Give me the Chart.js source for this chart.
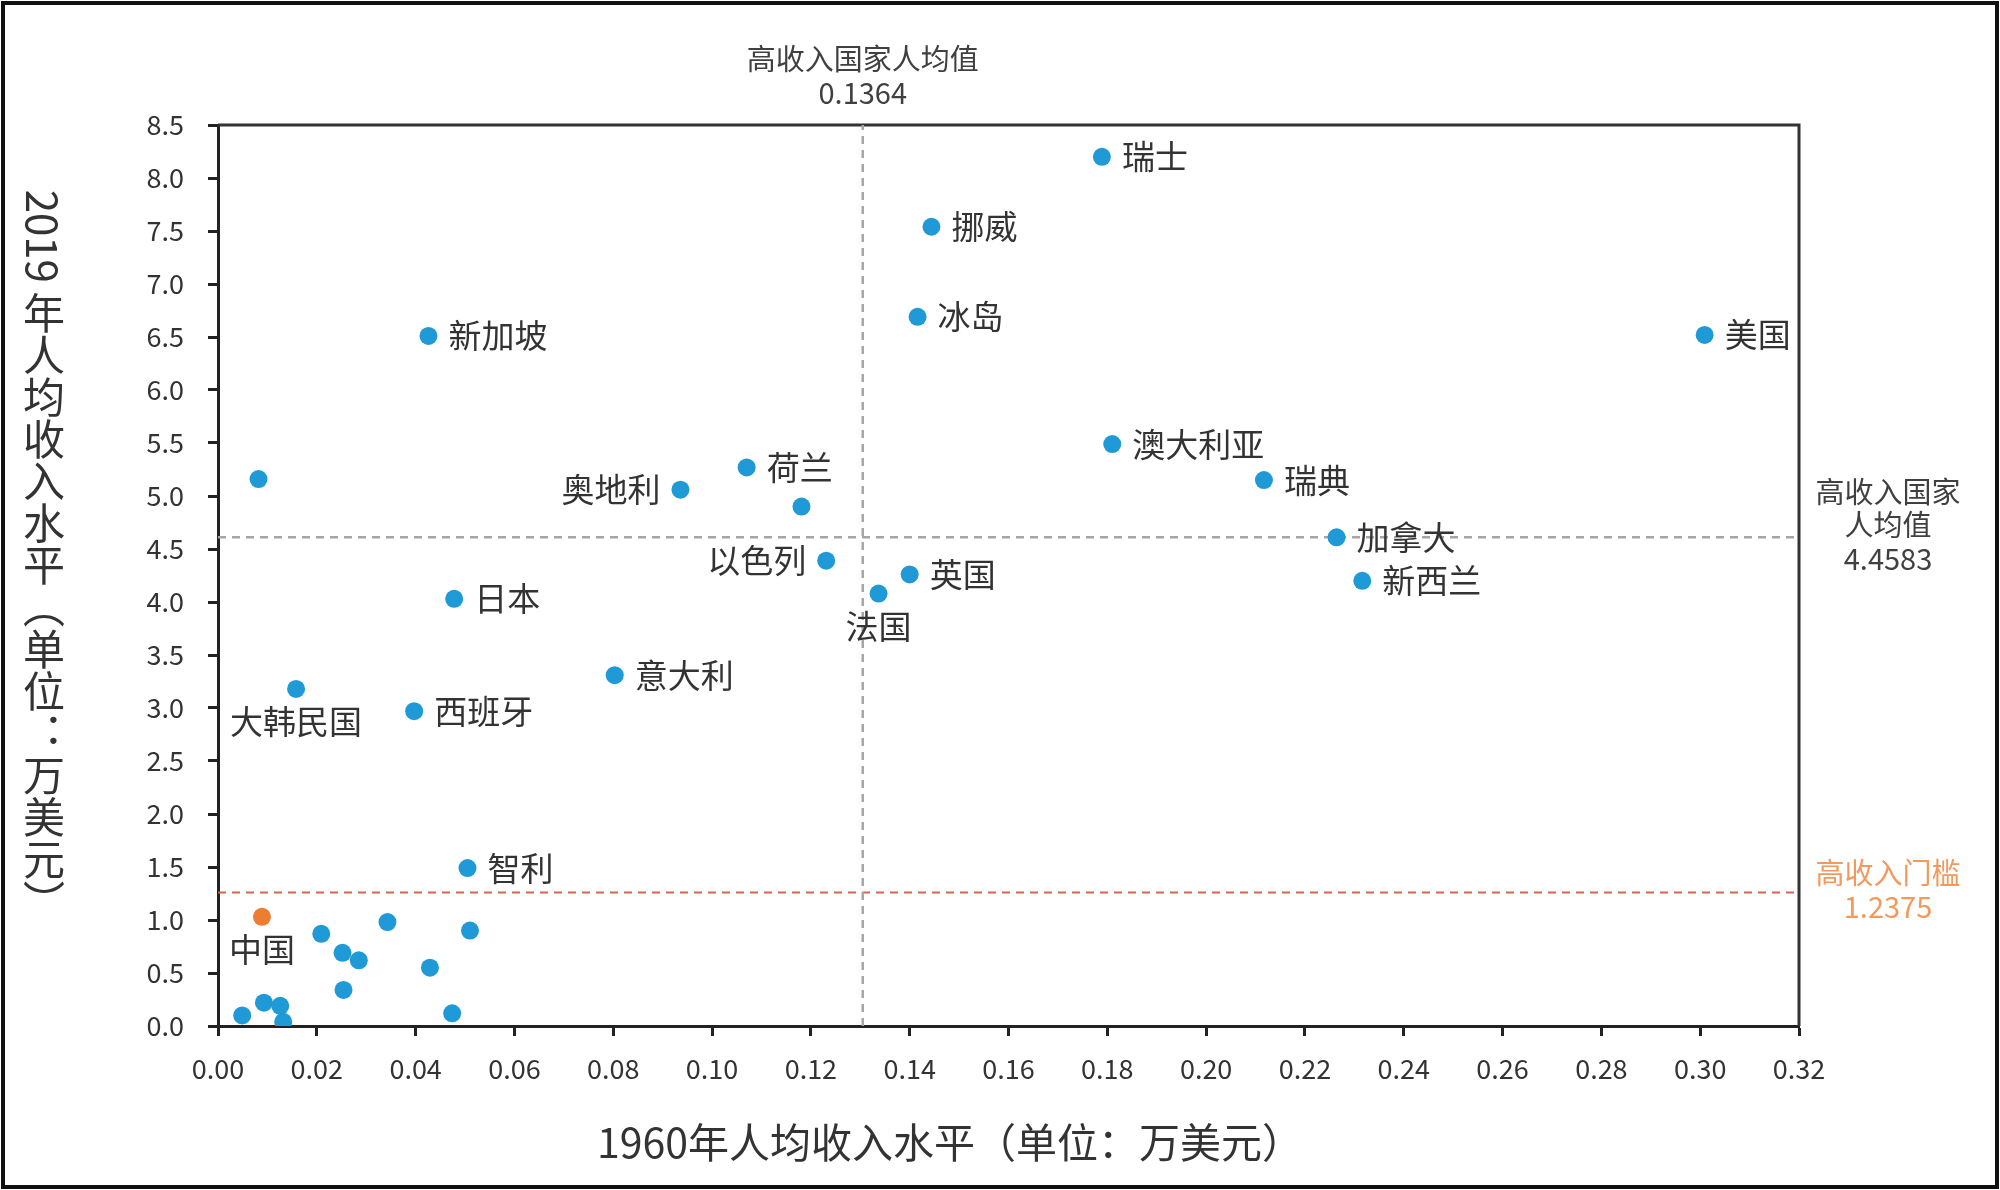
<!DOCTYPE html>
<html>
<head>
<meta charset="utf-8">
<script src="https://cdn.jsdelivr.net/npm/chart.js@4/dist/chart.umd.min.js"></script>
<style>
    body { margin: 0; background: #fff; }
    #wrap { position: relative; width: 2000px; height: 1190px; }
    #frame { position: absolute; left: 1px; top: 1px; width: 1998px; height: 1188px; box-sizing: border-box; border: 4px solid #111; pointer-events: none; }
    .axis-title { position: absolute; transform: translate(-50%, -50%); font-family: "Noto Sans CJK SC", sans-serif; color: #333; white-space: nowrap; }
    #ytitle { left: 44px; top: 556px; writing-mode: vertical-rl; font-size: 42px; }
    #xtitle { left: 950px; top: 1140px; font-size: 41px; }
</style>
</head>
<body>
<div id="wrap">
    <canvas id="chart"></canvas>
    <div id="ytitle" class="axis-title">2019 年人均收入水平（单位：万美元）</div>
    <div id="xtitle" class="axis-title">1960年人均收入水平（单位：万美元）</div>
    <div id="frame"></div>
</div>
<script>
// country names, '' = point without a label
const countries = ['瑞士', '挪威', '冰岛', '美国', '新加坡', '澳大利亚', '瑞典', '', '荷兰', '奥地利', '',
    '加拿大', '以色列', '英国', '新西兰', '法国', '日本', '意大利', '大韩民国', '西班牙', '智利', '中国',
    '', '', '', '', '', '', '', '', '', '', '', ''];
// 1960 per-capita income (10k USD)
const income1960 = [0.1789, 0.1444, 0.1416, 0.3009, 0.0426, 0.1810, 0.2117, 0.0082, 0.1070, 0.0936, 0.1181,
    0.2264, 0.1231, 0.1400, 0.2316, 0.1337, 0.0478, 0.0803, 0.0158, 0.0397, 0.0505, 0.0089,
    0.0209, 0.0343, 0.0510, 0.0252, 0.0285, 0.0429, 0.0254, 0.0049, 0.0093, 0.0126, 0.0132, 0.0474];
// 2019 per-capita income (10k USD)
const income2019 = [8.20, 7.54, 6.69, 6.52, 6.51, 5.49, 5.15, 5.16, 5.27, 5.06, 4.90,
    4.61, 4.39, 4.26, 4.20, 4.08, 4.03, 3.31, 3.18, 2.97, 1.49, 1.03,
    0.87, 0.98, 0.90, 0.69, 0.62, 0.55, 0.34, 0.10, 0.22, 0.19, 0.04, 0.12];

const xTickLabels = ['0.00', '0.02', '0.04', '0.06', '0.08', '0.10', '0.12', '0.14', '0.16',
    '0.18', '0.20', '0.22', '0.24', '0.26', '0.28', '0.30', '0.32'];
const yTickLabels = ['0.0', '0.5', '1.0', '1.5', '2.0', '2.5', '3.0', '3.5', '4.0',
    '4.5', '5.0', '5.5', '6.0', '6.5', '7.0', '7.5', '8.0', '8.5'];

// reference lines (where they sit on the chart) and their printed values
const avgLine1960 = 0.1305;
const avgLine2019 = 4.61;
const thresholdLine = 1.26;
const avgLabel1960 = '0.1364';
const avgLabel2019 = '4.4583';
const thresholdLabel = '1.2375';

const leftLabels = ['奥地利', '以色列'];
const belowLabels = ['法国', '大韩民国', '中国'];

const FONT = '"Noto Sans CJK SC", "Noto Sans", sans-serif';
const BLUE = '#1F9AD6';
const ORANGE = '#ED7D31';

Chart.defaults.font.family = FONT;
Chart.defaults.color = '#333';

const points = income1960.map((x, i) => ({ x: x, y: income2019[i] }));

const boxPlugin = {
    id: 'plotBox',
    beforeDatasetsDraw(chart) {
        const a = chart.chartArea;
        const ctx = chart.ctx;
        ctx.save();
        ctx.strokeStyle = '#333';
        ctx.lineWidth = 3;
        ctx.beginPath();
        ctx.moveTo(a.left, a.top);
        ctx.lineTo(a.right, a.top);
        ctx.lineTo(a.right, a.bottom);
        ctx.stroke();
        ctx.restore();
    }
};

const labelPlugin = {
    id: 'pointLabels',
    afterDatasetsDraw(chart) {
        const ctx = chart.ctx;
        const meta = chart.getDatasetMeta(0);
        ctx.save();
        ctx.font = '33px ' + FONT;
        ctx.fillStyle = '#333';
        ctx.textBaseline = 'middle';
        meta.data.forEach((pt, i) => {
            const name = countries[i];
            if (!name) return;
            if (leftLabels.includes(name)) {
                ctx.textAlign = 'right';
                ctx.fillText(name, pt.x - 20, pt.y);
            } else if (belowLabels.includes(name)) {
                ctx.textAlign = 'center';
                ctx.fillText(name, pt.x, pt.y + 33);
            } else {
                ctx.textAlign = 'left';
                ctx.fillText(name, pt.x + 20, pt.y);
            }
        });

        // reference line notes
        const xs = chart.scales.x, ys = chart.scales.y, a = chart.chartArea;
        ctx.font = '29px ' + FONT;
        ctx.textAlign = 'center';
        ctx.fillStyle = '#404040';
        const vx = xs.getPixelForValue(avgLine1960);
        ctx.fillText('高收入国家人均值', vx, a.top - 66);
        ctx.fillText(avgLabel1960, vx, a.top - 32);
        const rx = a.right + 89;
        const hy = ys.getPixelForValue(avgLine2019);
        ctx.fillText('高收入国家', rx, hy - 45);
        ctx.fillText('人均值', rx, hy - 12);
        ctx.fillText(avgLabel2019, rx, hy + 22);
        const ty = ys.getPixelForValue(thresholdLine);
        ctx.fillStyle = '#F29A5E';
        ctx.fillText('高收入门槛', rx, ty - 19);
        ctx.fillText(thresholdLabel, rx, ty + 15);
        ctx.restore();
    }
};

new Chart(document.getElementById('chart'), {
    type: 'scatter',
    data: {
        datasets: [{
            data: points,
            pointRadius: 9,
            pointHoverRadius: 9,
            pointBorderWidth: 0,
            pointBackgroundColor: ctx => countries[ctx.dataIndex] === '中国' ? ORANGE : BLUE,
            order: 0
        }, {
            data: [{ x: avgLine1960, y: 0 }, { x: avgLine1960, y: 8.5 }],
            showLine: true, pointRadius: 0, borderColor: '#A6A6A6', borderWidth: 2.5, borderDash: [8, 6], order: 1
        }, {
            data: [{ x: 0, y: avgLine2019 }, { x: 0.32, y: avgLine2019 }],
            showLine: true, pointRadius: 0, borderColor: '#A6A6A6', borderWidth: 2.5, borderDash: [8, 6], order: 1
        }, {
            data: [{ x: 0, y: thresholdLine }, { x: 0.32, y: thresholdLine }],
            showLine: true, pointRadius: 0, borderColor: '#D2694C', borderWidth: 2, borderDash: [8, 6], order: 1
        }]
    },
    options: {
        responsive: true,
        maintainAspectRatio: false,
        animation: false,
        layout: { padding: { left: 0, top: 125, right: 201, bottom: 0 } },
        plugins: { legend: { display: false }, tooltip: { enabled: false } },
        scales: {
            x: {
                type: 'linear', min: 0, max: 0.32,
                afterBuildTicks: s => { s.ticks = xTickLabels.map(l => ({ value: parseFloat(l) })); },
                afterFit: s => { s.height = 164; },
                ticks: { callback: (v, i) => xTickLabels[i], font: { size: 27 }, color: '#333', padding: 17 },
                grid: { drawOnChartArea: false, drawTicks: true, tickLength: 10, tickWidth: 3, tickColor: '#222' },
                border: { display: true, color: '#222', width: 3 }
            },
            y: {
                type: 'linear', min: 0, max: 8.5,
                afterBuildTicks: s => { s.ticks = yTickLabels.map(l => ({ value: parseFloat(l) })); },
                afterFit: s => { s.width = 218; },
                ticks: { callback: (v, i) => yTickLabels[i], font: { size: 27 }, color: '#333', padding: 24 },
                grid: { drawOnChartArea: false, drawTicks: true, tickLength: 10, tickWidth: 3, tickColor: '#222' },
                border: { display: true, color: '#222', width: 3 }
            }
        }
    },
    plugins: [boxPlugin, labelPlugin]
});
</script>
</body>
</html>
